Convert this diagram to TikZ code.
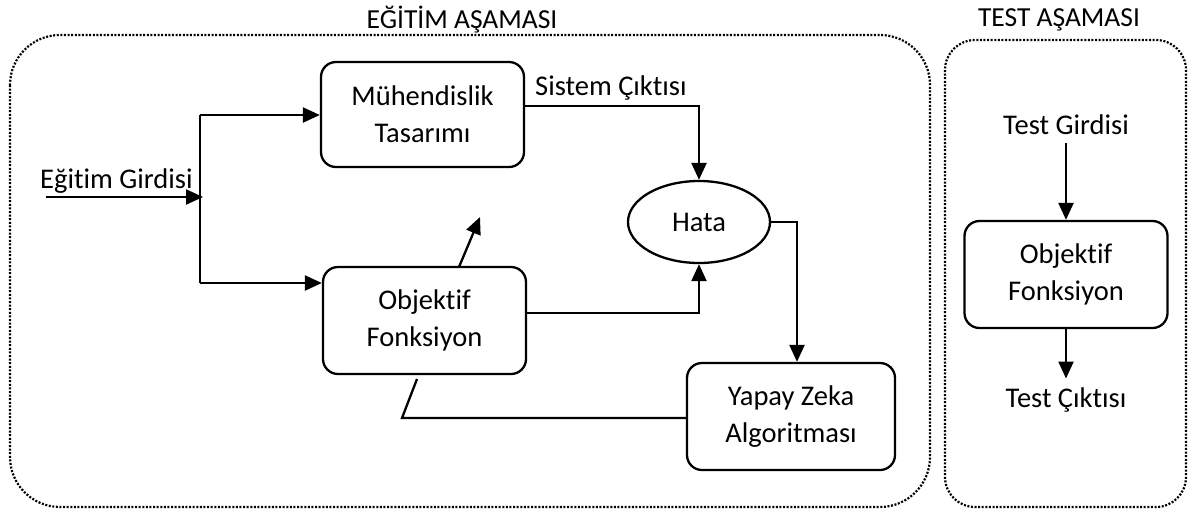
\documentclass[tikz,border=0pt]{standalone}
\usepackage{fontspec}
\setmainfont{Carlito}[Ligatures={NoCommon}]
\usetikzlibrary{arrows.meta,shapes.geometric}
\begin{document}
\begin{tikzpicture}[x=1pt,y=-1pt,
  box/.style={draw,line width=2.3pt,rounded corners=15pt,minimum width=203pt,minimum height=105pt,align=center,font=\fontsize{28.5}{37}\selectfont,inner sep=0pt},
  lbl/.style={font=\fontsize{28.5}{37}\selectfont,inner sep=0pt},
  ttl/.style={font=\fontsize{27.5}{30}\selectfont,inner sep=0pt},
  conn/.style={line width=2.3pt,-{Triangle[length=17pt,width=15pt]}},
  plain/.style={line width=2.3pt},
  frame/.style={line width=2.2pt,dash pattern=on 2pt off 1.6pt}
]
\useasboundingbox (0,0) rectangle (1189,512);
% frames
\draw[frame,rounded corners=50pt] (10,35) rectangle (930,507);
\draw[frame,rounded corners=30pt] (945,40) rectangle (1186,507);
% titles
\node[ttl] (t1) at (462,20) {EĞİTİM AŞAMASI};
\node[ttl] (t2) at (1059,20) {TEST AŞAMASI};
% nodes
\node[box] (muh) at (422.5,114.5) {Mühendislik\\Tasarımı};
\node[box,minimum height=107pt] (obj) at (424.5,320.5) {Objektif\\Fonksiyon};
\node[draw,ellipse,line width=2.3pt,minimum width=142pt,minimum height=82pt,lbl] (hata) at (699,222) {Hata};
\node[box,minimum width=208pt,minimum height=107pt] (yz) at (791,416.5) {Yapay Zeka\\Algoritması};
\node[box,minimum height=107pt] (tobj) at (1066,274.5) {Objektif\\Fonksiyon};
% labels
\node[lbl,anchor=base west] (in) at (40,188) {Eğitim Girdisi};
\node[lbl,anchor=base west] (so) at (535,95) {Sistem Çıktısı};
\node[lbl] (tg) at (1066,125) {Test Girdisi};
\node[lbl] (tc) at (1066,400) {Test Çıktısı};
% coordinates
\coordinate (inS) at (46,197);
\coordinate (j) at (203,197);
\coordinate (jt) at (200,115);
\coordinate (jb) at (200,283);
\coordinate (fb1) at (402,418);
\coordinate (fb2) at (417,379);
\coordinate (sa) at (459,267);
\coordinate (sb) at (480,217);
% connectors
\draw[conn] (inS) -- (j);
\draw[plain] (jt) -- (jb);
\draw[conn] (jt) -- (jt -| muh.west);
\draw[conn] (jb) -- (jb -| obj.west);
\draw[conn] (muh.east |- 0,106) -| (hata.north);
\draw[conn] (obj.east |- 0,313) -| (hata.south);
\draw[conn] (hata.east) -| (797,0 |- yz.north);
\draw[plain] (yz.west |- fb1) -- (fb1) -- (fb2);
\draw[conn] (sa) -- (sb);
\draw[conn] (tg) ++(0,18) -- (tobj.north);
\draw[conn] (tobj.south) -- ([yshift=9pt]tc.north);
\end{tikzpicture}
\end{document}
